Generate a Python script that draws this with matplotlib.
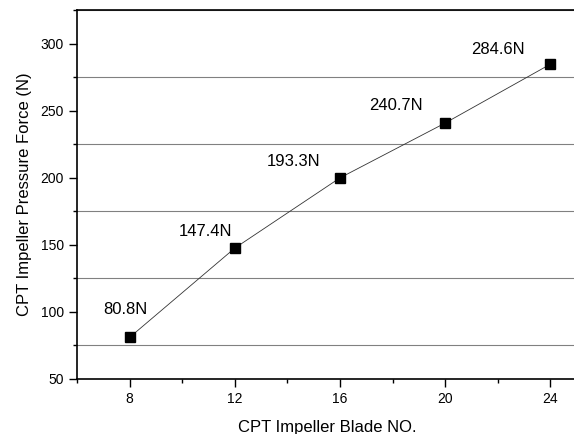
import matplotlib.pyplot as plt
from matplotlib.ticker import MultipleLocator

plt.rcParams['font.family'] = ['Liberation Sans', 'DejaVu Sans']

# data
blades = [8, 12, 16, 20, 24]
force = [80.8, 147.4, 199.8, 240.7, 284.6]
force_labels = ['80.8N', '147.4N', '193.3N', '240.7N', '284.6N']

# label placement relative to each point (pixels)
label_offsets = [(-4, 28), (-29, 17), (-46, 16), (-49, 18), (-52, 15)]

fig = plt.figure(figsize=(5.74, 4.34), dpi=100)
ax = fig.add_axes([77 / 574, 55.3 / 434, 500 / 574, 368.7 / 434])

ax.plot(blades, force, color='#333333', linewidth=0.6,
        marker='s', markersize=7, markerfacecolor='black', markeredgecolor='black')

for x, y, lab, off in zip(blades, force, force_labels, label_offsets):
    ax.annotate(lab, (x, y), xytext=off, textcoords='offset pixels',
                ha='center', va='center', fontsize=12)

ax.set_xlim(6, 6 + 500 / 26.3)
ax.set_ylim(50, 325)
ax.xaxis.set_major_locator(MultipleLocator(4))
ax.xaxis.set_minor_locator(MultipleLocator(2))
ax.yaxis.set_major_locator(MultipleLocator(50))
ax.yaxis.set_minor_locator(MultipleLocator(25))

ax.tick_params(which='major', direction='out', length=6, width=1, labelsize=10)
ax.tick_params(which='minor', direction='out', length=3, width=1)
ax.grid(which='minor', axis='y', color='#808080', linewidth=0.8)
ax.grid(which='major', visible=False)

for s in ['left', 'bottom', 'top']:
    ax.spines[s].set_linewidth(1.2)
ax.spines['right'].set_visible(False)

ax.set_xlabel('CPT Impeller Blade NO.', fontsize=12, labelpad=10)
ax.set_ylabel('CPT Impeller Pressure Force (N)', fontsize=12, labelpad=6)

fig.savefig('out.png', dpi=100)
